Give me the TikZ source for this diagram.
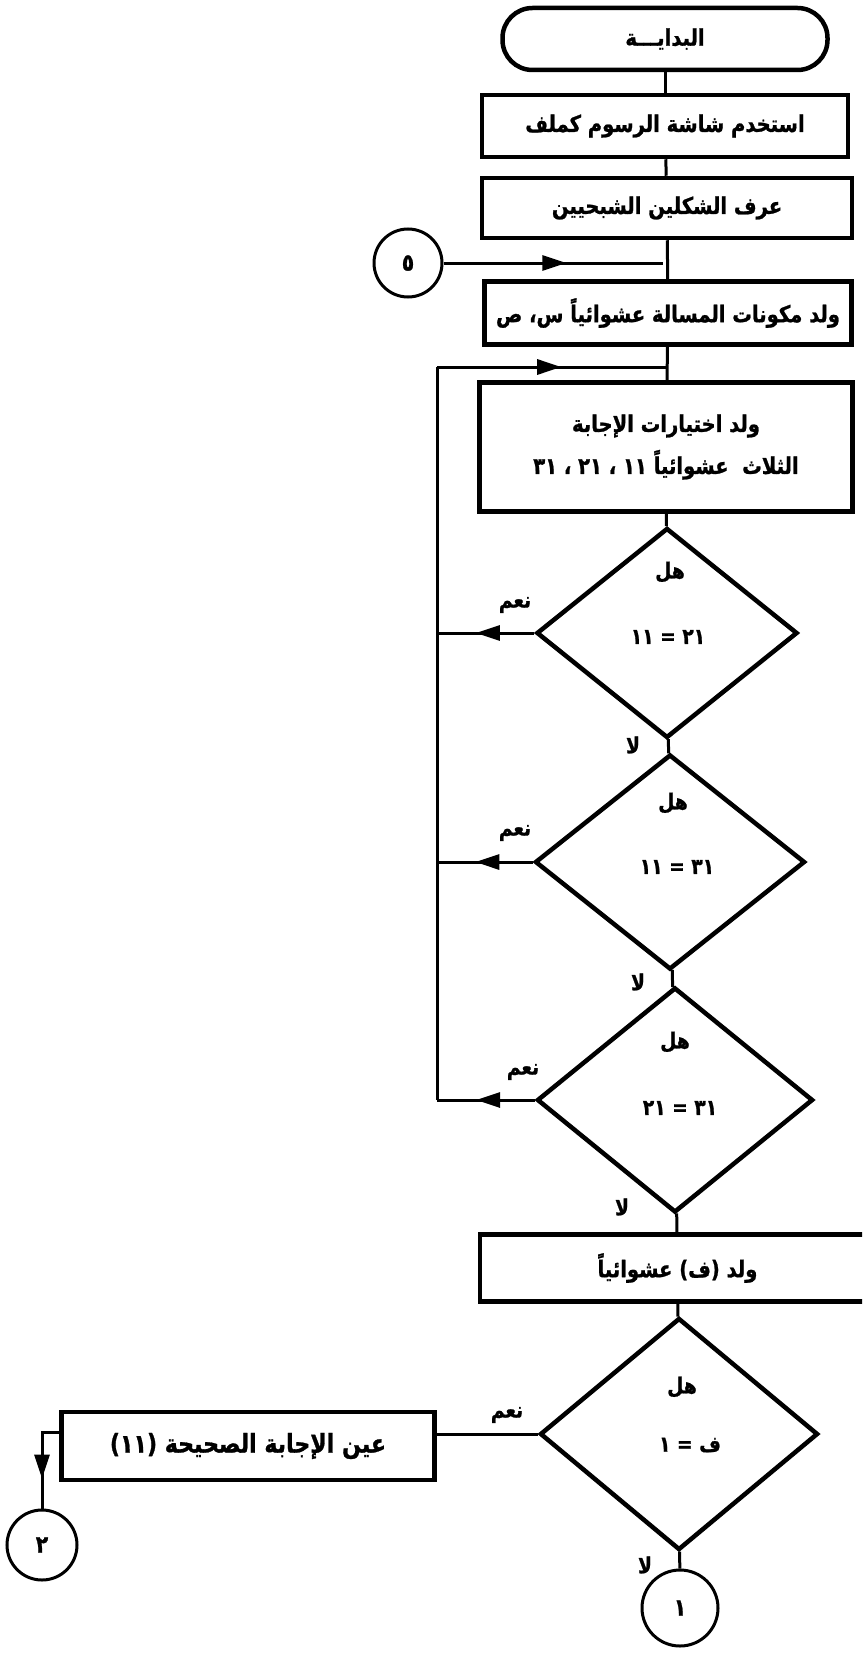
\documentclass[tikz,border=0pt]{standalone}
\usepackage{fontspec}
\newfontfamily\arabicfont[Script=Arabic,FakeStretch=0.85,FakeBold=1]{DejaVu Sans}
\TeXXeTstate=1
\usetikzlibrary{shapes.geometric,arrows.meta,decorations.markings}
\tikzset{
  box/.style={draw, line width=4.5pt, rectangle, inner sep=0pt, font=\arabicfont\bfseries\fontsize{23}{42}\selectfont, align=center},
  term/.style={box, rounded corners=30pt},
  conn/.style={line width=3pt},
  dia/.style={draw, diamond, line width=4.5pt, inner sep=0pt},
  circ/.style={draw, circle, line width=3pt, inner sep=0pt, font=\arabicfont\bfseries\fontsize{24}{28}\selectfont},
  lbl/.style={inner sep=0pt, font=\arabicfont\bfseries\fontsize{22}{26}\selectfont},
  midarrow/.style={postaction={decorate}, decoration={markings, mark=at position #1 with {\arrow{Triangle[length=24pt,width=15pt]}}}}
}
\begin{document}
\begin{tikzpicture}[x=1pt,y=-1pt]
\useasboundingbox (0,0) rectangle (862,1653);
\fill[white] (0,0) rectangle (862,1653);
\clip (0,0) rectangle (862,1653);

% nodes
\node[term, minimum width=325pt, minimum height=62pt] (start) at (665,39) {\beginR البدايـــة\endR};
\node[box, minimum width=366pt, minimum height=62pt] (b1) at (665,126) {\beginR استخدم شاشة الرسوم كملف\endR};
\node[box, minimum width=370pt, minimum height=60pt] (b2) at (667,208) {\beginR عرف الشكلين الشبحيين\endR};
\node[circ, minimum size=68pt] (c5) at (408,263) {٥};
\node[box, minimum width=367pt, minimum height=63pt] (b3) at (668,313) {\beginR ولد مكونات المسالة عشوائياً س، ص\endR};
\node[box, minimum width=373pt, minimum height=129pt] (b4) at (666,447) {\beginR ولد اختيارات الإجابة\endR\\\beginR الثلاث \ عشوائياً ١١ ، ٢١ ، ٣١\endR};
\node[dia, minimum width=261pt, minimum height=210pt] (d1) at (667,633) {};
\node[dia, minimum width=270pt, minimum height=215pt] (d2) at (670,862) {};
\node[dia, minimum width=276pt, minimum height=225pt] (d3) at (675,1100) {};
\node[box, minimum width=395pt, minimum height=67pt] (b5) at (677.5,1268) {\beginR ولد (ف) عشوائياً\endR};
\node[dia, minimum width=278pt, minimum height=232pt] (d4) at (679,1434) {};
\node[circ, minimum size=76pt] (c1) at (680,1608) {١};
\node[box, minimum width=373pt, minimum height=68pt, font=\arabicfont\bfseries\fontsize{26}{30}\selectfont] (b6) at (248,1446) {\beginR عين الإجابة الصحيحة (١١)\endR};
\node[circ, minimum size=70pt] (c2) at (42,1545) {٢};

% texts inside decisions
\node[lbl] (h1) at (670,572) {\beginR هل\endR};
\node[lbl] (e1) at (668,637) {\beginR ٢١ = ١١\endR};
\node[lbl] (h2) at (673,803) {\beginR هل\endR};
\node[lbl] (e2) at (677,867) {\beginR ٣١ = ١١\endR};
\node[lbl] (h3) at (675,1042) {\beginR هل\endR};
\node[lbl] (e3) at (680,1108) {\beginR ٣١ = ٢١\endR};
\node[lbl] (h4) at (682,1387) {\beginR هل\endR};
\node[lbl] (e4) at (690,1445) {\beginR ف = ١\endR};

% branch labels
\node[lbl] (y1) at (515,605) {\beginR نعم\endR};
\node[lbl] (y2) at (515,833) {\beginR نعم\endR};
\node[lbl] (y3) at (523,1072) {\beginR نعم\endR};
\node[lbl] (y4) at (507,1415) {\beginR نعم\endR};
\node[lbl] (n1) at (633,745) {\beginR لا\endR};
\node[lbl] (n2) at (638,982) {\beginR لا\endR};
\node[lbl] (n3) at (622,1207) {\beginR لا\endR};
\node[lbl] (n4) at (645,1565) {\beginR لا\endR};

% coordinates
\coordinate (j1) at (663,263);
\coordinate (j2) at (667,367);
\coordinate (lt) at (437,367);
\coordinate (lb) at (d3.west -| lt);
\coordinate (b6l) at (62,1432);
\coordinate (cc) at (42,1432);

% connectors
\draw[conn] (start) -- (b1);
\draw[conn] (b1) -- (b2);
\draw[conn] (b2) -- (b3);
\draw[conn, midarrow=0.56] (c5) -- (j1);
\draw[conn] (b3) -- (b4);
\draw[conn, midarrow=0.54] (lt) -- (j2);
\draw[conn] (lb) -- (lt);
\draw[conn] (b4) -- (d1);
\draw[conn] (d1) -- (d2);
\draw[conn] (d2) -- (d3);
\draw[conn] (d3) -- (b5);
\draw[conn, midarrow=0.6] (d1.west) -- (d1.west -| lt);
\draw[conn, midarrow=0.6] (d2.west) -- (d2.west -| lt);
\draw[conn, midarrow=0.6] (d3.west) -- (lb);
\draw[conn] (b5) -- (d4);
\draw[conn] (d4) -- (c1);
\draw[conn] (d4.west) -- (d4.west -| b6.east);
\draw[conn, midarrow=0.69] (b6l) -- (cc) -- (c2);
\end{tikzpicture}
\end{document}
